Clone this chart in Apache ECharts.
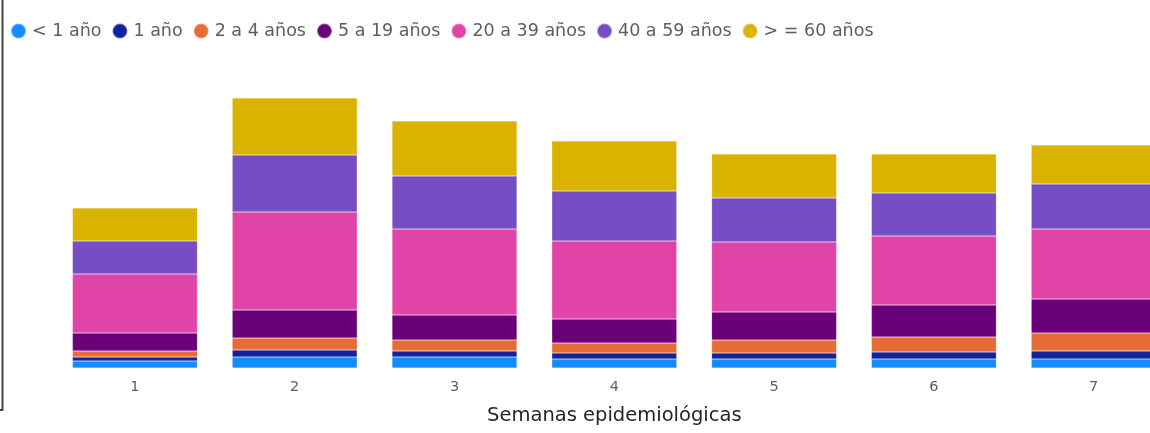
<!DOCTYPE html>
<html>
<head>
<meta charset="utf-8">
<script src="https://cdn.jsdelivr.net/npm/echarts@6/dist/echarts.min.js"></script>
<style>
  html, body { margin: 0; padding: 0; background: #fff; }
  #main { width: 1150px; height: 433px; }
</style>
</head>
<body>
<div id="main"></div>
<script>
// semanas epidemiológicas
var semanas = ["1", "2", "3", "4", "5", "6", "7"];

// casos por grupo de edad
var menos1 = [7, 11, 11, 9, 9, 9, 9];
var uno = [4, 7, 6, 6, 6, 7, 8];
var dos4 = [6, 12, 11, 10, 13, 15, 18];
var cinco19 = [18, 28, 25, 24, 28, 32, 34];
var veinte39 = [59, 98, 86, 78, 70, 69, 70];
var cuarenta59 = [33, 57, 53, 50, 44, 43, 45];
var mas60 = [33, 57, 55, 50, 44, 39, 39];

var grupos = ["< 1 año", "1 año", "2 a 4 años", "5 a 19 años", "20 a 39 años", "40 a 59 años", "> = 60 años"];
var colores = ["#118DFF", "#12239E", "#E66C37", "#6B007B", "#E044A7", "#744EC2", "#D9B300"];
var valores = [menos1, uno, dos4, cinco19, veinte39, cuarenta59, mas60];

var myChart = echarts.init(document.getElementById("main"));

var series = [];
for (var i = 0; i < grupos.length; i++) {
  series.push({
    name: grupos[i],
    type: "bar",
    stack: "total",
    barCategoryGap: "21.8%",
    data: valores[i],
    itemStyle: {
      color: colores[i],
      borderColor: "rgba(255,255,255,0.35)",
      borderWidth: 0.5,
    },
  });
}

var option = {
  animation: false,
  color: colores,
  legend: {
    left: 5,
    top: 17,
    icon: "circle",
    itemWidth: 15,
    itemHeight: 15,
    itemGap: 10,
    textStyle: {
      color: "#605E5C",
      fontSize: 17.5,
      fontFamily: "DejaVu Sans",
      padding: [0, 0, 0, 1],
    },
  },
  grid: {
    left: 55,
    width: 1118.6,
    top: 68,
    bottom: 65,
    outerBoundsMode: "none",
  },
  xAxis: {
    type: "category",
    data: semanas,
    axisLine: { show: false },
    axisTick: { show: false },
    axisLabel: {
      color: "#605E5C",
      fontSize: 14.5,
      fontFamily: "DejaVu Sans",
      margin: 12,
    },
    name: "Semanas epidemiológicas",
    nameLocation: "middle",
    nameGap: 38,
    nameTextStyle: {
      color: "#252423",
      fontSize: 19.5,
      fontFamily: "DejaVu Sans",
    },
  },
  yAxis: {
    type: "value",
    min: 0,
    max: 300,
    show: false,
  },
  graphic: [
    {
      type: "polyline",
      shape: { points: [[2.5, 0], [2.5, 410], [0, 410]] },
      style: { stroke: "#444", lineWidth: 2, fill: null },
    },
  ],
  series: series,
};

myChart.setOption(option);
</script>
</body>
</html>
